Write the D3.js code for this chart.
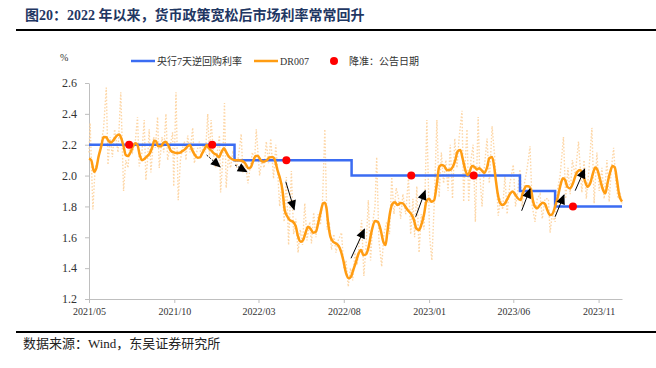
<!DOCTYPE html>
<html>
<head>
<meta charset="utf-8">
<script src="https://cdn.jsdelivr.net/npm/d3@7"></script>
<style>
  body { margin: 0; background: #fff; }
  svg { display: block; }
</style>
</head>
<body>
<svg id="chart" width="656" height="368"></svg>
<script>
'use strict';

// x tick labels (first day of month)
const tickDates = ["2021-05-01", "2021-10-01", "2022-03-01", "2022-08-01", "2023-01-01", "2023-06-01", "2023-11-01"];
const yTicks = [1.2, 1.4, 1.6, 1.8, 2.0, 2.2, 2.4, 2.6];

// 7-day reverse repo rate (step)
const repoRate = [
  ["2021-05-01", 2.2], ["2022-01-17", 2.1], ["2022-08-15", 2.0],
  ["2023-06-13", 1.9], ["2023-08-15", 1.8], ["2023-12-13", 1.8]
];

// RRR cut announcements, drawn on the repo line
const rrrCuts = [
  ["2021-07-12", 2.2], ["2021-12-08", 2.2], ["2022-04-20", 2.1],
  ["2022-11-30", 2.0], ["2023-03-22", 2.0], ["2023-09-16", 1.8]
];

// DR007, smoothed (solid orange)
const dr007Smooth = [
  ["2021-05-01",2.11],["2021-05-05",2.10],["2021-05-10",2.025],["2021-05-14",2.047],["2021-05-18",2.12],
  ["2021-05-23",2.19],["2021-05-27",2.25],["2021-06-01",2.248],["2021-06-05",2.224],["2021-06-10",2.215],
  ["2021-06-14",2.23],["2021-06-19",2.256],["2021-06-24",2.267],["2021-06-28",2.24],["2021-07-02",2.19],
  ["2021-07-06",2.133],["2021-07-10",2.127],["2021-07-15",2.155],["2021-07-19",2.19],["2021-07-23",2.21],
  ["2021-07-27",2.198],["2021-07-31",2.133],["2021-08-04",2.10],["2021-08-09",2.11],["2021-08-14",2.127],
  ["2021-08-18",2.144],["2021-08-23",2.19],["2021-08-26",2.225],["2021-08-29",2.224],["2021-09-02",2.19],
  ["2021-09-07",2.19],["2021-09-11",2.21],["2021-09-15",2.22],["2021-09-20",2.198],["2021-09-25",2.16],
  ["2021-09-30",2.15],["2021-10-05",2.146],["2021-10-11",2.148],["2021-10-16",2.16],["2021-10-20",2.17],
  ["2021-10-25",2.19],["2021-10-29",2.198],["2021-11-02",2.166],["2021-11-07",2.133],["2021-11-12",2.116],
  ["2021-11-16",2.118],["2021-11-20",2.144],["2021-11-25",2.177],["2021-11-28",2.198],["2021-12-02",2.177],
  ["2021-12-07",2.16],["2021-12-11",2.144],["2021-12-16",2.133],["2021-12-20",2.118],["2021-12-25",2.155],
  ["2021-12-29",2.177],["2022-01-01",2.16],["2022-01-06",2.127],["2022-01-12",2.107],["2022-01-18",2.10],
  ["2022-01-24",2.10],["2022-01-30",2.096],["2022-02-05",2.08],["2022-02-11",2.047],["2022-02-15",2.053],
  ["2022-02-19",2.09],["2022-02-24",2.127],["2022-02-28",2.127],["2022-03-05",2.10],["2022-03-09",2.09],
  ["2022-03-16",2.10],["2022-03-21",2.118],["2022-03-26",2.12],["2022-03-30",2.105],["2022-04-04",2.036],
  ["2022-04-08",1.99],["2022-04-13",1.906],["2022-04-17",1.777],["2022-04-22",1.733],["2022-04-26",1.712],
  ["2022-05-02",1.70],["2022-05-07",1.669],["2022-05-11",1.604],["2022-05-16",1.571],["2022-05-20",1.582],
  ["2022-05-25",1.636],["2022-05-29",1.669],["2022-06-03",1.652],["2022-06-07",1.63],["2022-06-12",1.636],
  ["2022-06-16",1.69],["2022-06-20",1.755],["2022-06-25",1.82],["2022-06-28",1.824],["2022-07-01",1.788],
  ["2022-07-04",1.69],["2022-07-08",1.604],["2022-07-13",1.571],["2022-07-18",1.56],["2022-07-23",1.543],
  ["2022-07-26",1.518],["2022-07-31",1.453],["2022-08-05",1.367],["2022-08-10",1.334],["2022-08-14",1.345],
  ["2022-08-18",1.388],["2022-08-23",1.442],["2022-08-27",1.49],["2022-09-01",1.518],["2022-09-05",1.485],
  ["2022-09-10",1.49],["2022-09-14",1.53],["2022-09-20",1.64],["2022-09-26",1.706],["2022-10-01",1.70],
  ["2022-10-06",1.65],["2022-10-11",1.57],["2022-10-15",1.55],["2022-10-18",1.63],["2022-10-23",1.76],
  ["2022-10-27",1.815],["2022-11-01",1.827],["2022-11-05",1.81],["2022-11-11",1.822],["2022-11-15",1.82],
  ["2022-11-20",1.795],["2022-11-25",1.77],["2022-11-30",1.75],["2022-12-05",1.71],["2022-12-09",1.658],
  ["2022-12-14",1.647],["2022-12-18",1.68],["2022-12-23",1.75],["2022-12-27",1.83],["2023-01-01",1.85],
  ["2023-01-05",1.83],["2023-01-10",1.84],["2023-01-15",1.95],["2023-01-19",2.055],["2023-01-23",2.068],
  ["2023-01-28",2.062],["2023-02-02",2.036],["2023-02-08",2.038],["2023-02-13",2.06],["2023-02-17",2.10],
  ["2023-02-21",2.155],["2023-02-26",2.166],["2023-03-02",2.112],["2023-03-07",2.036],["2023-03-11",2.004],
  ["2023-03-14",2.018],["2023-03-19",2.062],["2023-03-23",2.057],["2023-03-28",2.04],["2023-04-01",2.047],
  ["2023-04-06",2.031],["2023-04-10",2.018],["2023-04-15",2.053],["2023-04-19",2.112],["2023-04-24",2.12],
  ["2023-04-28",2.05],["2023-04-30",1.99],["2023-05-04",1.885],["2023-05-08",1.824],["2023-05-13",1.81],
  ["2023-05-17",1.82],["2023-05-22",1.853],["2023-05-27",1.885],["2023-05-31",1.896],["2023-06-05",1.874],
  ["2023-06-09",1.853],["2023-06-14",1.842],["2023-06-18",1.885],["2023-06-24",1.93],["2023-06-28",1.93],
  ["2023-07-03",1.906],["2023-07-06",1.842],["2023-07-10",1.798],["2023-07-14",1.788],["2023-07-19",1.81],
  ["2023-07-24",1.824],["2023-07-28",1.815],["2023-08-01",1.777],["2023-08-06",1.744],["2023-08-10",1.75],
  ["2023-08-15",1.798],["2023-08-20",1.863],["2023-08-24",1.928],["2023-08-29",1.982],["2023-09-02",1.971],
  ["2023-09-06",1.928],["2023-09-11",1.917],["2023-09-16",1.95],["2023-09-20",1.993],["2023-09-24",2.025],
  ["2023-09-29",2.036],["2023-10-04",2.004],["2023-10-08",1.96],["2023-10-12",1.928],["2023-10-17",1.95],
  ["2023-10-22",2.015],["2023-10-26",2.053],["2023-10-30",2.036],["2023-11-04",1.971],["2023-11-09",1.906],
  ["2023-11-13",1.885],["2023-11-17",1.95],["2023-11-22",2.025],["2023-11-26",2.062],["2023-11-30",2.053],
  ["2023-12-04",1.971],["2023-12-08",1.874],["2023-12-13",1.831]
];

// DR007, daily (light dotted)
const dr007Daily = [
  ["2021-05-01",2.15],["2021-05-03",2.34],["2021-05-08",1.78],["2021-05-12",2.05],["2021-05-17",2.10],
  ["2021-05-22",2.20],["2021-05-27",2.30],["2021-06-01",2.57],["2021-06-04",2.07],["2021-06-08",2.25],
  ["2021-06-12",2.12],["2021-06-16",2.30],["2021-06-22",2.15],["2021-06-27",2.54],["2021-07-02",1.90],
  ["2021-07-06",2.10],["2021-07-10",2.05],["2021-07-13",2.20],["2021-07-18",2.15],["2021-07-23",2.22],
  ["2021-07-27",2.38],["2021-07-30",2.06],["2021-08-04",2.15],["2021-08-08",2.36],["2021-08-11",1.97],
  ["2021-08-14",2.10],["2021-08-17",2.30],["2021-08-20",2.02],["2021-08-25",2.25],["2021-08-28",2.18],
  ["2021-09-01",2.38],["2021-09-04",2.05],["2021-09-09",2.25],["2021-09-12",2.15],["2021-09-16",2.40],
  ["2021-09-19",2.10],["2021-09-24",2.20],["2021-09-28",2.28],["2021-09-30",1.93],["2021-10-04",2.54],
  ["2021-10-08",1.84],["2021-10-12",2.10],["2021-10-16",2.18],["2021-10-19",2.22],["2021-10-22",2.10],
  ["2021-10-25",2.26],["2021-10-29",2.15],["2021-11-03",2.31],["2021-11-06",2.08],["2021-11-10",2.15],
  ["2021-11-15",2.22],["2021-11-18",2.12],["2021-11-22",2.20],["2021-11-26",2.15],["2021-11-30",2.40],
  ["2021-12-03",2.12],["2021-12-06",2.36],["2021-12-10",2.15],["2021-12-14",2.05],["2021-12-18",2.18],
  ["2021-12-21",2.26],["2021-12-23",1.89],["2021-12-27",2.10],["2021-12-30",2.47],["2022-01-02",1.92],
  ["2022-01-06",2.12],["2022-01-10",2.05],["2022-01-14",2.15],["2022-01-17",2.13],["2022-01-21",2.05],
  ["2022-01-25",2.15],["2022-01-29",2.27],["2022-02-01",2.02],["2022-02-05",2.10],["2022-02-10",1.95],
  ["2022-02-14",2.05],["2022-02-18",2.15],["2022-02-22",2.10],["2022-02-25",2.30],["2022-03-03",2.00],
  ["2022-03-07",2.10],["2022-03-11",2.05],["2022-03-15",2.22],["2022-03-19",2.08],["2022-03-23",2.24],
  ["2022-03-28",1.98],["2022-04-01",2.20],["2022-04-04",2.05],["2022-04-08",1.80],["2022-04-12",1.95],
  ["2022-04-16",1.70],["2022-04-20",1.99],["2022-04-24",1.55],["2022-04-29",2.03],["2022-05-03",1.62],
  ["2022-05-07",1.72],["2022-05-11",1.50],["2022-05-15",1.65],["2022-05-19",1.55],["2022-05-23",1.82],
  ["2022-05-27",1.58],["2022-06-01",1.70],["2022-06-04",1.56],["2022-06-08",1.76],["2022-06-12",1.60],
  ["2022-06-16",1.75],["2022-06-20",1.68],["2022-06-24",1.85],["2022-06-28",2.30],["2022-07-02",1.65],
  ["2022-07-06",1.70],["2022-07-10",1.52],["2022-07-14",1.62],["2022-07-18",1.50],["2022-07-22",1.58],
  ["2022-07-28",1.63],["2022-08-01",1.40],["2022-08-05",1.45],["2022-08-09",1.28],["2022-08-13",1.40],
  ["2022-08-17",1.32],["2022-08-21",1.50],["2022-08-25",1.42],["2022-08-29",1.58],["2022-09-02",1.71],
  ["2022-09-06",1.35],["2022-09-10",1.55],["2022-09-14",1.84],["2022-09-18",1.45],["2022-09-22",1.70],
  ["2022-09-26",1.80],["2022-09-29",2.12],["2022-10-03",1.58],["2022-10-08",1.41],["2022-10-12",1.62],
  ["2022-10-17",1.70],["2022-10-22",1.62],["2022-10-26",1.99],["2022-10-30",1.75],["2022-11-03",1.92],
  ["2022-11-07",1.86],["2022-11-11",1.72],["2022-11-15",1.88],["2022-11-20",1.75],["2022-11-25",1.99],
  ["2022-11-29",1.62],["2022-12-03",1.85],["2022-12-06",1.60],["2022-12-10",1.93],["2022-12-14",1.50],
  ["2022-12-18",1.75],["2022-12-23",1.65],["2022-12-28",2.36],["2023-01-02",1.60],["2023-01-06",1.45],
  ["2023-01-10",1.80],["2023-01-15",2.36],["2023-01-19",1.86],["2023-01-23",2.15],["2023-01-27",1.95],
  ["2023-01-31",2.10],["2023-02-04",1.90],["2023-02-08",2.20],["2023-02-12",1.85],["2023-02-16",2.24],
  ["2023-02-20",2.05],["2023-02-24",2.25],["2023-03-01",2.42],["2023-03-04",1.83],["2023-03-07",2.10],
  ["2023-03-10",2.30],["2023-03-13",1.83],["2023-03-17",2.10],["2023-03-21",2.20],["2023-03-25",1.70],
  ["2023-03-30",2.38],["2023-04-02",2.00],["2023-04-06",1.80],["2023-04-10",2.05],["2023-04-15",2.24],
  ["2023-04-19",1.95],["2023-04-24",2.32],["2023-04-28",2.15],["2023-05-02",1.95],["2023-05-05",1.74],
  ["2023-05-09",1.85],["2023-05-13",1.78],["2023-05-17",2.00],["2023-05-21",1.75],["2023-05-26",1.95],
  ["2023-06-01",2.07],["2023-06-05",1.80],["2023-06-09",1.90],["2023-06-13",2.04],["2023-06-17",1.80],
  ["2023-06-21",1.95],["2023-06-26",2.05],["2023-07-01",2.19],["2023-07-05",1.80],["2023-07-10",1.70],
  ["2023-07-14",1.85],["2023-07-19",1.88],["2023-07-23",1.72],["2023-07-28",1.85],["2023-08-03",1.85],
  ["2023-08-06",1.63],["2023-08-10",1.75],["2023-08-15",1.70],["2023-08-19",1.90],["2023-08-24",2.00],
  ["2023-08-30",2.25],["2023-09-03",1.85],["2023-09-07",2.05],["2023-09-11",1.88],["2023-09-15",2.10],
  ["2023-09-20",2.00],["2023-09-26",2.22],["2023-10-02",1.89],["2023-10-06",2.10],["2023-10-10",1.85],
  ["2023-10-15",2.05],["2023-10-20",2.31],["2023-10-24",1.82],["2023-10-29",2.15],["2023-11-02",1.90],
  ["2023-11-07",2.05],["2023-11-11",1.85],["2023-11-16",2.10],["2023-11-20",1.83],["2023-11-24",2.05],
  ["2023-11-28",2.18],["2023-12-02",1.95],["2023-12-06",1.85],["2023-12-10",1.88],["2023-12-13",1.82]
];

// annotation arrows: [start date, start value, end date, end value, dashed]
const arrows = [
  ["2021-11-28", 2.133, "2021-12-22", 2.057, true],
  ["2022-01-18", 2.068, "2022-02-08", 2.025, true],
  ["2022-04-19", 1.96, "2022-05-04", 1.78, false],
  ["2022-08-14", 1.464, "2022-09-07", 1.652, false],
  ["2022-12-08", 1.733, "2022-12-25", 1.902, false],
  ["2023-06-16", 1.772, "2023-07-01", 1.913, false],
  ["2023-08-15", 1.733, "2023-08-31", 1.874, false],
  ["2023-09-20", 1.902, "2023-10-07", 2.042, false]
];

const seriesNames = ["央行7天逆回购利率", "DR007", "降准：公告日期"];
const titleText = "图20：2022 年以来，货币政策宽松后市场利率常常回升";
const sourceText = "数据来源：Wind，东吴证券研究所";

(() => {
    const parse = d3.timeParse("%Y-%m-%d");
    const serif = "'Liberation Serif', 'Times New Roman', 'Noto Sans CJK SC', serif";
    const cjk = "'Liberation Serif', 'Noto Sans CJK SC', sans-serif";
    const svg = d3.select("#chart");

    // plot box
    const left = 89, right = 622, top = 83, bottom = 299;

    const x = d3.scaleTime()
        .domain([parse("2021-05-01"), parse("2023-12-13")])
        .range([left, right]);
    const y = d3.scaleLinear()
        .domain([1.2, 2.6])
        .range([bottom, top]);

    // title + rules
    svg.append("text")
        .attr("x", 25).attr("y", 20)
        .style("font-family", cjk)
        .style("font-weight", "bold")
        .style("font-size", "14px")
        .style("fill", "#1f3763")
        .text(titleText);
    svg.append("line")
        .attr("x1", 16).attr("x2", 656).attr("y1", 30).attr("y2", 30)
        .attr("stroke", "#000").attr("stroke-width", 2);
    svg.append("line")
        .attr("x1", 16).attr("x2", 656).attr("y1", 332).attr("y2", 332)
        .attr("stroke", "#000").attr("stroke-width", 2);
    svg.append("text")
        .attr("x", 23).attr("y", 348)
        .style("font-family", cjk)
        .style("font-size", "13px")
        .style("fill", "#222")
        .text(sourceText);

    // axes
    const xAxis = svg.append("g")
        .attr("transform", `translate(0,${bottom})`)
        .call(d3.axisBottom(x)
            .tickValues(tickDates.map(parse))
            .tickFormat(d3.timeFormat("%Y/%m"))
            .tickSize(4).tickSizeOuter(0).tickPadding(5));
    const yAxis = svg.append("g")
        .attr("transform", `translate(${left},0)`)
        .call(d3.axisLeft(y)
            .tickValues(yTicks)
            .tickFormat(d3.format(".1f"))
            .tickSize(4).tickSizeOuter(0).tickPadding(8));
    [xAxis, yAxis].forEach(g => {
        g.select(".domain").attr("stroke", "#bfbfbf");
        g.selectAll(".tick line").attr("stroke", "#bfbfbf");
        g.selectAll(".tick text")
            .style("font-family", serif)
            .attr("fill", "#333");
    });
    yAxis.selectAll(".tick text").style("font-size", "12px");
    xAxis.selectAll(".tick text").style("font-size", "10px");

    svg.append("text")
        .attr("x", 60).attr("y", 61)
        .style("font-family", serif)
        .style("font-size", "10px")
        .attr("fill", "#333")
        .text("%");

    const line = d3.line()
        .x(d => x(parse(d[0])))
        .y(d => y(d[1]));

    // daily DR007, faint dotted
    svg.append("path")
        .attr("fill", "none")
        .attr("stroke", "#fdd6a6")
        .attr("stroke-width", 1.4)
        .attr("stroke-dasharray", "1.5,1.8")
        .attr("d", line(dr007Daily));

    // policy rate
    svg.append("path")
        .attr("fill", "none")
        .attr("stroke", "#3b6cf2")
        .attr("stroke-width", 2.5)
        .attr("d", line.curve(d3.curveStepAfter)(repoRate));
    line.curve(d3.curveLinear);

    // smoothed DR007
    svg.append("path")
        .attr("fill", "none")
        .attr("stroke", "#ff9c12")
        .attr("stroke-width", 2.5)
        .attr("stroke-linejoin", "round")
        .attr("d", d3.line()
            .x(d => x(parse(d[0])))
            .y(d => y(d[1]))
            .curve(d3.curveMonotoneX)(dr007Smooth));

    // RRR dots
    svg.selectAll(".rrr")
        .data(rrrCuts)
        .enter().append("circle")
            .attr("cx", d => x(parse(d[0])))
            .attr("cy", d => y(d[1]))
            .attr("r", 4)
            .attr("fill", "#ff0000");

    // arrows
    svg.append("defs").append("marker")
        .attr("id", "head")
        .attr("markerUnits", "userSpaceOnUse")
        .attr("viewBox", "0 0 10 10")
        .attr("refX", 9).attr("refY", 5)
        .attr("markerWidth", 11).attr("markerHeight", 10)
        .attr("orient", "auto")
        .append("path")
            .attr("d", "M0,0.5L10,5L0,9.5z")
            .attr("fill", "#000");
    svg.selectAll(".arrow")
        .data(arrows)
        .enter().append("line")
            .attr("x1", d => x(parse(d[0])))
            .attr("y1", d => y(d[1]))
            .attr("x2", d => x(parse(d[2])))
            .attr("y2", d => y(d[3]))
            .attr("stroke", "#000")
            .attr("stroke-width", 1)
            .attr("stroke-dasharray", d => d[4] ? "2,1.5" : null)
            .attr("marker-end", "url(#head)");

    // legend
    const legend = svg.append("g").style("font-family", cjk).style("font-size", "10px");
    const items = [
        { name: seriesNames[0], kind: "line", color: "#3b6cf2", x: 131 },
        { name: seriesNames[1], kind: "line", color: "#ff9c12", x: 254 },
        { name: seriesNames[2], kind: "dot", color: "#ff0000", x: 330 }
    ];
    items.forEach(it => {
        if (it.kind == "line") {
            legend.append("line")
                .attr("x1", it.x).attr("x2", it.x + 24)
                .attr("y1", 61).attr("y2", 61)
                .attr("stroke", it.color).attr("stroke-width", 2.5);
            legend.append("text")
                .attr("x", it.x + 26).attr("y", 64.5)
                .attr("fill", "#333")
                .text(it.name);
        } else {
            legend.append("circle")
                .attr("cx", it.x + 4).attr("cy", 61).attr("r", 4)
                .attr("fill", it.color);
            legend.append("text")
                .attr("x", it.x + 19).attr("y", 64.5)
                .attr("fill", "#333")
                .text(it.name);
        }
    });
})();
</script>
</body>
</html>
